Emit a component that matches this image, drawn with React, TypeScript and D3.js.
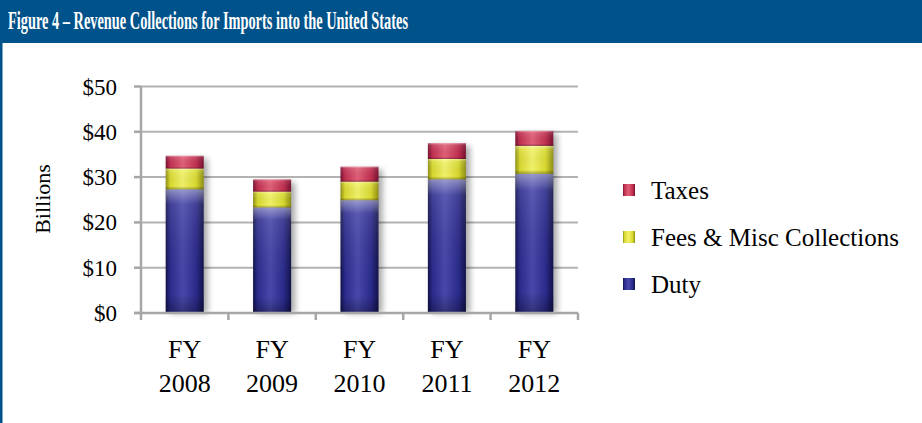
import React from "react";
import * as d3 from "d3";

const years = ["2008", "2009", "2010", "2011", "2012"];
const duty = [27.3, 23.3, 24.9, 29.5, 30.7];
const fees = [4.6, 3.5, 4.1, 4.5, 6.2];
const taxes = [2.8, 2.7, 3.3, 3.5, 3.3];
const yTicks = [0, 10, 20, 30, 40, 50];
const seriesKeys = ["duty", "fees", "taxes"];
const legendLabels = ["Taxes", "Fees & Misc Collections", "Duty"];
const legendKeys = ["taxes", "fees", "duty"];
const titleText = "Figure 4 – Revenue Collections for Imports into the United States";

const W = 922;
const H = 423;
const plotLeft = 141;
const plotRight = 578;
const plotTop = 86.5;
const plotBottom = 313;

const colors: Record<string, { dark: string; mid: string; light: string }> = {
  duty: { dark: "#11114a", mid: "#2b2b8c", light: "#4848aa" },
  fees: { dark: "#8f8f10", mid: "#d8d830", light: "#f2f26a" },
  taxes: { dark: "#7a1030", mid: "#c03050", light: "#e06078" },
};

const SERIF = "'Liberation Serif', 'Times New Roman', Times, serif";

export default function App() {
  const rows = years.map((y, i) => ({ year: y, duty: duty[i], fees: fees[i], taxes: taxes[i] }));
  const stack = d3.stack<any>().keys(seriesKeys);
  const stacked = stack(rows);

  const x = d3
    .scaleBand<string>()
    .domain(years)
    .range([plotLeft, plotRight])
    .paddingInner(0.565)
    .paddingOuter(0.2825);
  const y = d3.scaleLinear().domain([0, 50]).range([plotBottom, plotTop]);

  const step = x.step();
  const bandStart = x.range()[0];
  const xTickPositions = d3.range(years.length + 1).map((i) => bandStart + i * step);

  return (
    <svg width={W} height={H} style={{ position: "absolute", left: 0, top: 0, background: "#ffffff" }}>
      <defs>
        {seriesKeys.map((k) => (
          <linearGradient key={k} id={`grad-${k}`} x1="0" x2="1" y1="0" y2="0">
            <stop offset="0" stopColor={colors[k].dark} />
            <stop offset="0.12" stopColor={colors[k].mid} />
            <stop offset="0.45" stopColor={colors[k].light} />
            <stop offset="0.8" stopColor={colors[k].mid} />
            <stop offset="1" stopColor={colors[k].dark} />
          </linearGradient>
        ))}
        <linearGradient id="topHi" x1="0" x2="0" y1="0" y2="1">
          <stop offset="0" stopColor="#ffffff" stopOpacity="0.45" />
          <stop offset="0.12" stopColor="#ffffff" stopOpacity="0.1" />
          <stop offset="0.85" stopColor="#000000" stopOpacity="0" />
          <stop offset="1" stopColor="#000000" stopOpacity="0.3" />
        </linearGradient>
        <filter id="shadow" x="-50%" y="-10%" width="200%" height="120%">
          <feGaussianBlur stdDeviation="3" />
        </filter>
      </defs>

      <rect x={0} y={0} width={W} height={H} fill="#ffffff" />
      <rect x={0} y={0} width={W} height={43} fill="#00528a" />
      <rect x={0} y={43} width={2.5} height={H - 43} fill="#00528a" />
      <text
        x={8}
        y={29}
        fill="#ffffff"
        style={{ fontFamily: SERIF, fontSize: "26px", fontWeight: 700 }}
        textLength={400}
        lengthAdjust="spacingAndGlyphs"
      >
        {titleText}
      </text>

      {yTicks.slice(1).map((t) => (
        <line key={t} x1={plotLeft} x2={plotRight} y1={y(t)} y2={y(t)} stroke="#b3b3b3" strokeWidth={2} />
      ))}

      {rows.map((r) => {
        const top = y(r.duty + r.fees + r.taxes);
        return (
          <rect
            key={`s-${r.year}`}
            x={(x(r.year) as number) + 4}
            y={top + 3}
            width={x.bandwidth()}
            height={plotBottom - top - 3}
            fill="#000000"
            opacity={0.35}
            filter="url(#shadow)"
          />
        );
      })}

      {stacked.map((s) => (
        <g key={s.key}>
          {s.map((d, i) => {
            const bx = x(years[i]) as number;
            const y0 = y(d[1]);
            const h = y(d[0]) - y(d[1]);
            return (
              <g key={i}>
                <rect x={bx} y={y0} width={x.bandwidth()} height={h} fill={`url(#grad-${s.key})`} />
                <rect x={bx} y={y0} width={x.bandwidth()} height={h} fill="url(#topHi)" />
              </g>
            );
          })}
        </g>
      ))}

      <line x1={plotLeft} x2={plotLeft} y1={plotTop} y2={plotBottom} stroke="#a6a6a6" strokeWidth={2.5} />
      <line x1={plotLeft - 7} x2={plotRight} y1={plotBottom} y2={plotBottom} stroke="#a6a6a6" strokeWidth={2.5} />
      {yTicks.map((t) => (
        <g key={`yt-${t}`}>
          <line x1={plotLeft - 7} x2={plotLeft} y1={y(t)} y2={y(t)} stroke="#a6a6a6" strokeWidth={2.5} />
          <text x={117} y={y(t)} dy="0.35em" textAnchor="end" style={{ fontFamily: SERIF, fontSize: "23px" }} fill="#000">
            {`$${t}`}
          </text>
        </g>
      ))}
      {xTickPositions.map((p, i) => (
        <line key={`xt-${i}`} x1={p} x2={p} y1={plotBottom} y2={plotBottom + 7} stroke="#a6a6a6" strokeWidth={2.5} />
      ))}
      {years.map((yr) => {
        const cx = (x(yr) as number) + x.bandwidth() / 2;
        return (
          <g key={`xl-${yr}`}>
            <text x={cx} y={358} textAnchor="middle" style={{ fontFamily: SERIF, fontSize: "26px" }} fill="#000">
              FY
            </text>
            <text x={cx} y={392} textAnchor="middle" style={{ fontFamily: SERIF, fontSize: "26px" }} fill="#000">
              {yr}
            </text>
          </g>
        );
      })}

      <text
        transform="translate(42,199) rotate(-90)"
        textAnchor="middle"
        dy="0.35em"
        style={{ fontFamily: SERIF, fontSize: "22px" }}
        fill="#000"
      >
        Billions
      </text>

      {legendKeys.map((k, i) => {
        const ly = 190 + i * 47;
        return (
          <g key={`lg-${k}`}>
            <rect x={623} y={ly - 6} width={12} height={12} fill={`url(#grad-${k})`} />
            <text x={651} y={ly} dy="0.35em" style={{ fontFamily: SERIF, fontSize: "25px" }} fill="#000">
              {legendLabels[i]}
            </text>
          </g>
        );
      })}
    </svg>
  );
}
